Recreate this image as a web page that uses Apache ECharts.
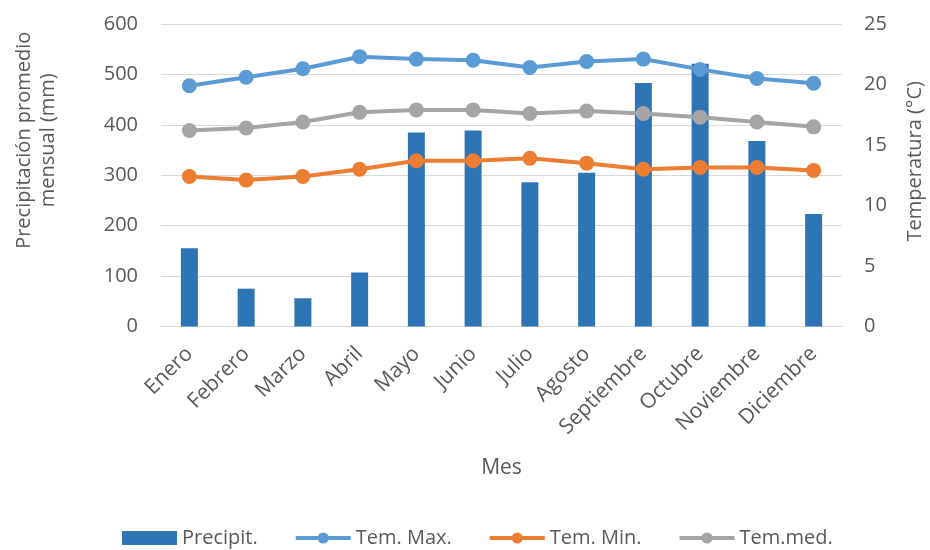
<!DOCTYPE html>
<html>
<head>
<meta charset="utf-8">
<script src="https://cdn.jsdelivr.net/npm/echarts@6/dist/echarts.min.js"></script>
<style>
  html, body { margin: 0; padding: 0; background: #fff; }
  #chart { width: 930px; height: 550px; }
</style>
</head>
<body>
<div id="chart"></div>
<script>
// Monthly climate: precipitation (mm) and temperatures (°C)
const meses = ['Enero', 'Febrero', 'Marzo', 'Abril', 'Mayo', 'Junio', 'Julio', 'Agosto', 'Septiembre', 'Octubre', 'Noviembre', 'Diciembre'];
const precipitacion = [155, 75, 56, 107, 385, 389, 286, 305, 483, 521, 368, 223];
const temMax = [19.9, 20.6, 21.3, 22.3, 22.1, 22.0, 21.4, 21.9, 22.1, 21.25, 20.5, 20.1];
const temMin = [12.4, 12.1, 12.4, 13.0, 13.7, 13.7, 13.9, 13.5, 13.0, 13.15, 13.15, 12.9];
const temMed = [16.2, 16.4, 16.9, 17.7, 17.9, 17.9, 17.6, 17.8, 17.6, 17.3, 16.9, 16.5];

const FONT = '"Open Sans", "Noto Sans", sans-serif';
const TXT = '#595959';

const chart = echarts.init(document.getElementById('chart'), null, { renderer: 'canvas' });

function lineSeries(name, data, color) {
  return {
    name: name,
    type: 'line',
    yAxisIndex: 1,
    data: data,
    symbol: 'circle',
    symbolSize: 15,
    lineStyle: { width: 4, color: color },
    itemStyle: { color: color },
    z: 3
  };
}

chart.setOption({
  animation: false,
  textStyle: { fontFamily: FONT, color: TXT },
  grid: { left: 161, right: 88, top: 24, bottom: 223.5, containLabel: false, outerBoundsMode: 'none' },
  legend: {
    top: 523,
    left: 117,
    itemWidth: 55,
    itemHeight: 14,
    itemGap: 36,
    lineStyle: { width: 4 },
    textStyle: { fontFamily: FONT, fontSize: 20, color: TXT },
    data: [
      { name: 'Precipit.', icon: 'rect' },
      'Tem. Max.', 'Tem. Min.', 'Tem.med.'
    ]
  },
  xAxis: {
    type: 'category',
    data: meses,
    name: 'Mes',
    nameLocation: 'middle',
    nameGap: 131,
    nameTextStyle: { fontFamily: FONT, fontSize: 21, color: TXT },
    axisLine: { lineStyle: { color: '#D9D9D9', width: 1 } },
    axisTick: { show: false },
    axisLabel: { rotate: 45, fontSize: 21, color: TXT, fontFamily: FONT, margin: 24, interval: 0 }
  },
  yAxis: [
    {
      type: 'value',
      min: 0, max: 600, interval: 100,
      name: 'Precipitación promedio\nmensual (mm)',
      nameLocation: 'middle',
      nameGap: 101,
      nameTextStyle: { fontFamily: FONT, fontSize: 20, color: TXT, lineHeight: 24, padding: [0, 0, 0, 70] },
      axisLine: { show: false },
      axisTick: { show: false },
      axisLabel: { fontSize: 20, color: TXT, fontFamily: FONT, margin: 23 },
      splitLine: { lineStyle: { color: '#D9D9D9', width: 1 } }
    },
    {
      type: 'value',
      min: 0, max: 25, interval: 5,
      name: 'Temperatura (°C)',
      nameLocation: 'middle',
      nameGap: 63,
      nameTextStyle: { fontFamily: FONT, fontSize: 20, color: TXT, padding: [0, 0, 0, 28] },
      axisLine: { show: false },
      axisTick: { show: false },
      axisLabel: { fontSize: 20, color: TXT, fontFamily: FONT, margin: 22 },
      splitLine: { show: false }
    }
  ],
  series: [
    {
      name: 'Precipit.',
      type: 'bar',
      data: precipitacion,
      barWidth: 17,
      itemStyle: { color: '#2E75B6' },
      z: 2
    },
    lineSeries('Tem. Max.', temMax, '#5B9BD5'),
    lineSeries('Tem. Min.', temMin, '#ED7D31'),
    lineSeries('Tem.med.', temMed, '#A5A5A5')
  ]
});
</script>
</body>
</html>
